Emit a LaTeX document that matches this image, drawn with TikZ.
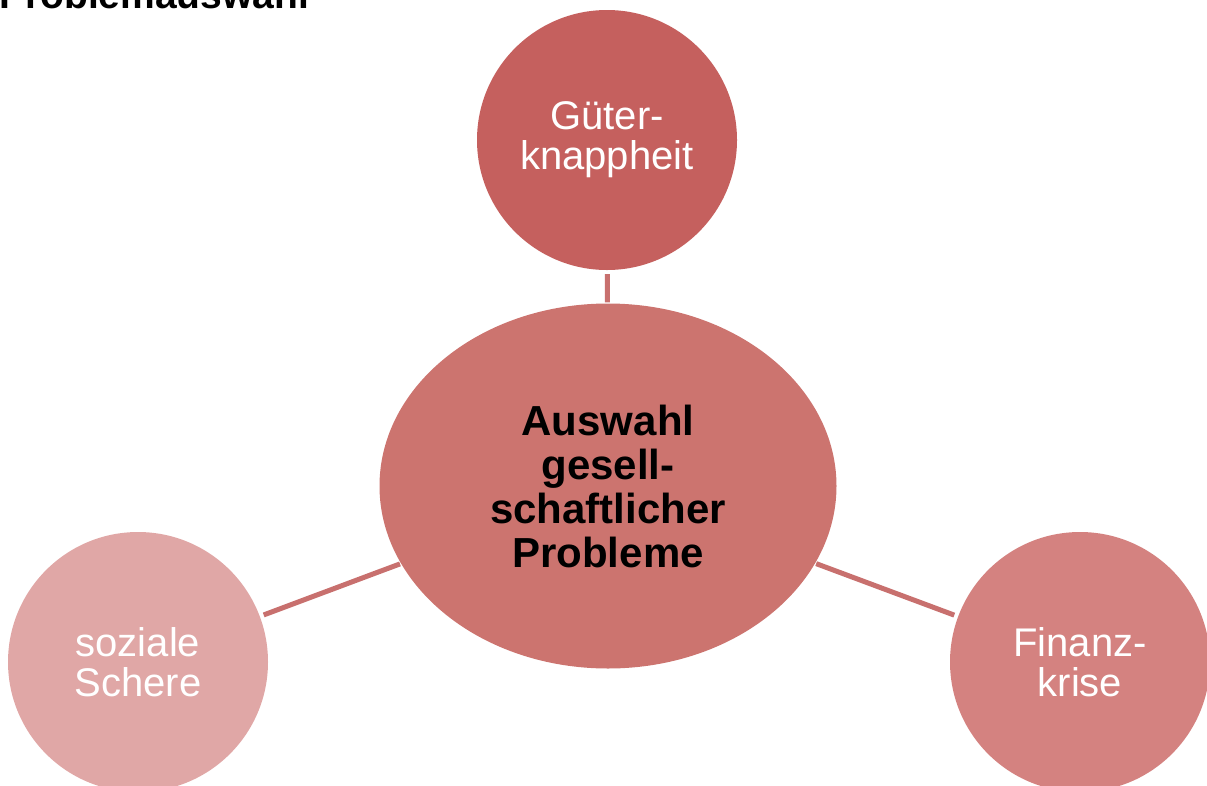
\documentclass[tikz,border=0pt]{standalone}
\usepackage{fontspec}
\setmainfont{Liberation Sans}
\usetikzlibrary{shapes.geometric}
\definecolor{cTop}{RGB}{197,96,94}
\definecolor{cMid}{RGB}{204,116,111}
\definecolor{cRight}{RGB}{212,130,128}
\definecolor{cLeft}{RGB}{224,167,166}
\definecolor{cLine}{RGB}{200,112,110}
\tikzset{
  satellite/.style={circle, minimum size=260pt, inner sep=0pt, text=white, align=center,
    font=\fontsize{40}{40}\selectfont},
  hub/.style={ellipse, minimum width=457pt, minimum height=365pt, inner sep=0pt, fill=cMid,
    text=black, align=center, font=\fontsize{42}{44}\selectfont\bfseries},
  link/.style={draw=cLine, line width=5pt, shorten <=4pt, shorten >=1pt},
  titletext/.style={anchor=base west, inner sep=0pt, font=\fontsize{39}{39}\selectfont\bfseries}
}
\begin{document}
\begin{tikzpicture}[x=1pt,y=-1pt]
\useasboundingbox (0,0) rectangle (1207,785);
\clip (0,0) rectangle (1207,785);
\node[titletext] (title) at (-1,8) {Problemauswahl};
\node[satellite, fill=cTop] (top) at (607,140) {Güter-\\knappheit};
\node[satellite, fill=cLeft] (left) at (138,662) {soziale\\Schere};
\node[satellite, fill=cRight] (right) at (1080,662) {Finanz-\\krise};
\node[hub] (hub) at (608,486) {Auswahl\\gesell-\\schaftlicher\\Probleme};
\draw[link] (top) -- (hub);
\draw[link] (left) -- (hub);
\draw[link] (right) -- (hub);
\end{tikzpicture}
\end{document}
